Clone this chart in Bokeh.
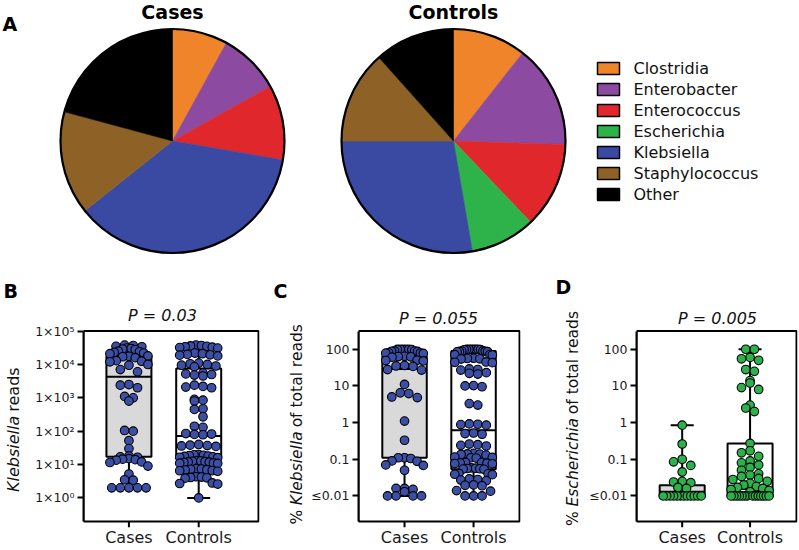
import numpy as np
from bokeh.plotting import figure
from bokeh.layouts import column, row
from bokeh.models import Range1d, FixedTicker, CustomJSTickFormatter
from bokeh.core.properties import value
from bokeh.embed import file_html
from bokeh.resources import INLINE

FONT = "DejaVu Sans"

# ---------------- data ----------------
genera = ["Clostridia", "Enterobacter", "Enterococcus", "Escherichia",
          "Klebsiella", "Staphylococcus", "Other"]
genus_colors = ["#f0842a", "#8c4aa0", "#e0282c", "#2db34a", "#3a4aa2", "#8e6227", "#000000"]
cases_pct = [8.0, 8.9, 10.8, 0.0, 36.6, 14.9, 20.8]
controls_pct = [10.6, 14.9, 12.4, 9.4, 27.7, 13.4, 11.6]
pie_titles = ["Cases", "Controls"]

groups = ["Cases", "Controls"]

kleb_reads_cases = [38000, 37000, 35000, 34000, 31000, 30000, 29000, 28000, 25000, 24000,
                    23000, 22000, 21000, 18000, 17500, 17000, 16000, 13000, 12500, 12000,
                    10000, 9500, 7000, 6000, 2500, 2400, 2000, 1100, 1000, 800,
                    105, 100, 52, 30, 18, 17, 16.5, 15, 14.5, 14, 13.5, 12, 11.5, 9,
                    5.2, 3.5, 3.4, 2, 2, 2, 2, 2]
kleb_reads_controls = [38000, 37000, 36000, 35000, 34000, 33000, 32000, 31000,
                       22000, 21000, 20000, 19500, 19000, 18000,
                       11000, 10500, 10000, 9500, 9000, 8500,
                       5500, 5200, 5000, 4800, 4500, 2400, 2200, 2100, 2000,
                       900, 850, 800, 470, 450, 270, 140, 130, 85, 82, 80, 78,
                       40, 38, 37, 36, 35, 20, 19.5, 19, 18.5, 18, 17.5, 17, 16.5, 16,
                       13, 12.8, 12.5, 12.2, 12, 11.8, 11.5, 11.2, 11, 10.8,
                       7.5, 7.3, 7.2, 7, 6.8, 6.6, 6.5, 6.3, 4.3, 4.2, 4.1, 4, 3.9,
                       2.8, 2.7, 2.6, 1]
kleb_pct_cases = [100, 100, 100, 100, 99, 98, 90, 89, 88, 87, 80, 79, 78, 77, 64, 63, 62, 61,
                  50, 49, 48, 36, 35, 34, 28, 27, 11, 6.5, 6.2, 5, 4.8, 1.1, 0.33,
                  0.11, 0.11, 0.105, 0.09, 0.088, 0.07, 0.068, 0.05, 0.016, 0.016, 0.015,
                  0.013, 0.01, 0.01, 0.01, 0.01]
kleb_pct_controls = [100, 100, 100, 100, 100, 99, 98, 97, 90, 89, 88, 87, 86, 85,
                     72, 71, 70, 57, 56, 55, 54, 45, 44, 43, 29, 28, 27, 23, 22, 21,
                     10.2, 10, 9.5, 3.3, 3.0, 0.92, 0.9, 0.88, 0.85, 0.52, 0.5, 0.48,
                     0.26, 0.25, 0.24, 0.23, 0.145, 0.14, 0.138, 0.135, 0.13,
                     0.115, 0.112, 0.11, 0.108, 0.082, 0.08, 0.079, 0.078, 0.076, 0.075,
                     0.058, 0.057, 0.056, 0.055, 0.054, 0.053, 0.041, 0.04, 0.039, 0.038,
                     0.029, 0.028, 0.027, 0.026, 0.02, 0.019, 0.0195, 0.014, 0.0135,
                     0.01, 0.01, 0.01]
esch_pct_cases = [0.85, 0.26, 0.1, 0.085, 0.068, 0.045, 0.025, 0.024, 0.023, 0.017, 0.016,
                  0.01, 0.01, 0.01, 0.01, 0.01, 0.01, 0.01, 0.01, 0.01, 0.01, 0.01, 0.01]
esch_pct_controls = [100, 100, 60, 55, 50, 28, 25, 14, 12, 9, 8, 3, 2.5, 2, 0.27, 0.17,
                     0.15, 0.12, 0.09, 0.08, 0.07, 0.06, 0.05, 0.04, 0.037, 0.034, 0.03,
                     0.028, 0.025, 0.022, 0.02, 0.018, 0.017, 0.016, 0.015, 0.014, 0.013,
                     0.01, 0.01, 0.01, 0.01, 0.01, 0.01, 0.01, 0.01, 0.01, 0.01, 0.01,
                     0.01, 0.01, 0.01]

# box stats: [whisker min, Q1, median, Q3, whisker max]
kleb_reads_cases_box = [2, 17, 4300, 18000, 38000]
kleb_reads_controls_box = [1, 17, 72, 7500, 38000]
kleb_pct_cases_box = [0.01, 0.11, 29, 65, 100]
kleb_pct_controls_box = [0.01, 0.053, 0.62, 90, 100]
esch_pct_cases_box = [0.01, 0.01, 0.013, 0.0195, 0.85]
esch_pct_controls_box = [0.01, 0.01, 0.0155, 0.27, 100]

reads_ticks = [1, 10, 100, 1000, 10000, 100000]
reads_tick_labels = ["1×10⁰", "1×10¹", "1×10²", "1×10³", "1×10⁴", "1×10⁵"]
pct_ticks = [0.01, 0.1, 1, 10, 100]
pct_tick_labels = ["≤0.01", "0.1", "1", "10", "100"]

p_values = ["P = 0.03", "P = 0.055", "P = 0.005"]
panel_letters = ["A", "B", "C", "D"]
y_labels = [
    [("Klebsiella", True), (" reads", False)],
    [("% ", False), ("Klebsiella", True), (" of total reads", False)],
    [("% ", False), ("Escherichia", True), (" of total reads", False)],
]

# ---------------- helpers ----------------
DW = {' ': 0.318, '%': 0.950, 'K': 0.656, 'l': 0.278, 'e': 0.615, 'b': 0.635, 's': 0.521,
      'i': 0.278, 'a': 0.613, 'r': 0.411, 'd': 0.635, 'o': 0.612, 'f': 0.352, 't': 0.392,
      'E': 0.632, 'c': 0.550, 'h': 0.634}


def text_w(s, size):
    return sum(DW.get(ch, 0.6) for ch in s) * size


def swarm_offsets(vals, ymin, pdec, d=8.6, lim=19.0):
    """Prism-like binned swarm: points sharing a bin of one dot height sit side by side."""
    ys = (np.log10(np.asarray(vals, dtype=float)) - ymin) * pdec
    base = ys.min()
    bins = np.round((ys - base) / d).astype(int)
    xs = np.zeros(len(ys))
    for b in np.unique(bins):
        idx = np.where(bins == b)[0]
        idx = idx[np.argsort(-ys[idx], kind="stable")]
        n = len(idx)
        step = d if (n - 1) * d <= 2 * lim else 2 * lim / (n - 1)
        pos = (np.arange(n) - (n - 1) / 2) * step
        pos = pos[np.argsort(np.abs(pos) + 1e-3 * pos, kind="stable")]
        xs[idx] = pos
    return xs


W_TOTAL = 798
H_TOTAL = 549
TOP_H = 300                  # page rows 0..300: pies, legend, panel letters
ROW_H = H_TOTAL - TOP_H
BTOP = 0
BBOT = 19
FR_TOP = TOP_H + BTOP        # page y of the bottom frames' top
FR_BOT = H_TOTAL - BBOT      # page y of the bottom frames' bottom
BOX_TOP = 331                # visible box (page y)
BOX_BOT = 524

# ---------------- top canvas ----------------
top = figure(width=W_TOTAL, height=TOP_H, x_range=Range1d(0, W_TOTAL), y_range=Range1d(0, TOP_H),
             output_backend="svg", toolbar_location=None, x_axis_location=None,
             y_axis_location=None, min_border=0, title=None)
top.outline_line_color = None
for g in top.grid:
    g.visible = False


def ty(page_y):
    return TOP_H - page_y


pie_cx = [172, 453]
pie_cy = ty(140.5)
pie_r = 112
for k, pct in enumerate([cases_pct, controls_pct]):
    frac = np.array(pct) / np.sum(pct)
    cum = np.concatenate([[0], np.cumsum(frac)])
    keep = frac > 0
    starts = (np.pi / 2 - 2 * np.pi * cum[1:])[keep]
    ends = (np.pi / 2 - 2 * np.pi * cum[:-1])[keep]
    cols = [c for c, kk in zip(genus_colors, keep) if kk]
    top.wedge(x=pie_cx[k], y=pie_cy, radius=pie_r, start_angle=starts, end_angle=ends,
              direction="anticlock", fill_color=cols, line_color=cols, line_width=0.6)
    top.circle(x=pie_cx[k], y=pie_cy, radius=pie_r, fill_color=None, line_color="black",
               line_width=2.2)
    top.text(x=[pie_cx[k]], y=[ty(11)], text=[pie_titles[k]], text_font=value(FONT),
             text_font_size="19px", text_font_style="bold", text_align="center",
             text_baseline="middle", text_color="black")

leg_y = [ty(68 + 21 * i) for i in range(len(genera))]
top.rect(x=[608] * len(genera), y=leg_y, width=22, height=12, fill_color=genus_colors,
         line_color="black", line_width=1.5)
top.text(x=[633] * len(genera), y=leg_y, text=genera, text_font=value(FONT),
         text_font_size="16px", text_baseline="middle", text_color="#111111")

top.text(x=[2, 3, 273, 555], y=[ty(23), ty(290), ty(290), ty(286)], text=panel_letters,
         text_font=value(FONT), text_font_size="19px", text_font_style="bold",
         text_align="left", text_baseline="middle", text_color="black")


# ---------------- y-axis label strips ----------------
def ylabel_strip(width, parts, center_page_y, size):
    fh = FR_BOT - FR_TOP
    s = figure(width=width, height=ROW_H, x_range=Range1d(0, width), y_range=Range1d(0, fh),
               output_backend="svg", toolbar_location=None, x_axis_location=None,
               y_axis_location=None, min_border_left=0, min_border_right=0,
               min_border_top=BTOP, min_border_bottom=BBOT, title=None)
    s.outline_line_color = None
    for g in s.grid:
        g.visible = False
    total = sum(text_w(t, size) for t, _ in parts)
    cur = (FR_BOT - center_page_y) - total / 2      # bottom end of the label (data y, upward)
    for t, ital in parts:
        lead = len(t) - len(t.lstrip(" "))
        cur += text_w(" " * lead, size)
        core = t.strip(" ")
        s.text(x=[width / 2], y=[cur], text=[core], angle=np.pi / 2, text_font=value(FONT),
               text_font_size=f"{size}px", text_font_style="italic" if ital else "normal",
               text_align="left", text_baseline="middle", text_color="#111111")
        cur += text_w(core, size)
        trail = len(t) - len(t.rstrip(" "))
        cur += text_w(" " * trail, size)
    return s


# ---------------- box + swarm panels ----------------
def panel(fig_left, box_left, box_right, fig_right, xr, anchor, ticks, tick_labels,
          data_c, data_k, box_c, box_k, color, ptitle, ptitle_x, ptitle_y):
    v0, y0, pdec = anchor          # value v0 sits at page y0; pdec pixels per decade
    vis_w = box_right - box_left
    ppu = vis_w / (xr[1] - xr[0])
    frame_w = vis_w + 1
    bl = box_left - fig_left
    br = fig_right - box_left - frame_w
    ymax = np.log10(v0) + (y0 - FR_TOP) / pdec
    ymin = np.log10(v0) - (FR_BOT - y0) / pdec

    def py(page_y):
        return 10 ** (np.log10(v0) + (y0 - page_y) / pdec)

    def px(page_x):
        return xr[0] + (page_x - box_left) / ppu

    p = figure(width=fig_right - fig_left, height=ROW_H,
               x_range=Range1d(xr[0], xr[1] + 1 / ppu),
               y_range=Range1d(10 ** ymin, 10 ** ymax), y_axis_type="log",
               output_backend="svg", toolbar_location=None, title=None,
               min_border_left=bl, min_border_right=br, min_border_top=BTOP,
               min_border_bottom=BBOT)
    p.grid.visible = False
    p.outline_line_color = None
    p.background_fill_color = "white"
    p.border_fill_color = "white"

    yax = p.yaxis[0]
    yax.ticker = FixedTicker(ticks=ticks, minor_ticks=[])
    yax.formatter = CustomJSTickFormatter(args=dict(vals=ticks, labs=tick_labels), code="""
        let best = -1, bd = 1e9;
        for (let i = 0; i < vals.length; i++) {
            const d = Math.abs(Math.log(vals[i]) - Math.log(tick));
            if (d < bd) { bd = d; best = i; }
        }
        return bd < 1e-6 ? labs[best] : "";
    """)
    yax.bounds = (py(BOX_BOT), py(BOX_TOP))
    yax.axis_line_width = 2
    yax.axis_line_color = "black"
    yax.major_tick_line_width = 2
    yax.major_tick_line_color = "black"
    yax.major_tick_out = 6
    yax.major_tick_in = 0
    yax.minor_tick_line_color = None
    yax.major_label_text_font = FONT
    yax.major_label_text_color = "#1a1a1a"
    yax.major_label_text_font_size = "12.5px"
    yax.major_label_standoff = 3

    xax = p.xaxis[0]
    xax.ticker = FixedTicker(ticks=[1, 2], minor_ticks=[])
    xax.formatter = CustomJSTickFormatter(args=dict(labs=groups), code="""
        const i = Math.round(tick) - 1;
        return (i >= 0 && i < labs.length) ? labs[i] : "";
    """)
    xax.axis_line_color = None
    xax.major_tick_line_color = None
    xax.major_tick_out = 0
    xax.major_tick_in = 0
    xax.minor_tick_line_color = None
    xax.major_label_text_font = FONT
    xax.major_label_text_color = "#1a1a1a"
    xax.major_label_text_font_size = "16px"
    xax.major_label_standoff = 0

    bw = 45 / ppu
    cw = 23 / ppu
    boxes = [box_c, box_k]
    cats = [1, 2]
    p.quad(left=[c - bw / 2 for c in cats], right=[c + bw / 2 for c in cats],
           bottom=[b[1] for b in boxes], top=[b[3] for b in boxes],
           fill_color=["#d9d9d9", "#ffffff"], line_color="black", line_width=2)
    p.segment(x0=[c - bw / 2 for c in cats], x1=[c + bw / 2 for c in cats],
              y0=[b[2] for b in boxes], y1=[b[2] for b in boxes], line_color="black",
              line_width=2)
    p.segment(x0=cats + cats, x1=cats + cats,
              y0=[b[3] for b in boxes] + [b[1] for b in boxes],
              y1=[b[4] for b in boxes] + [b[0] for b in boxes], line_color="black", line_width=2)
    p.segment(x0=[c - cw / 2 for c in cats] * 2, x1=[c + cw / 2 for c in cats] * 2,
              y0=[b[4] for b in boxes] + [b[0] for b in boxes],
              y1=[b[4] for b in boxes] + [b[0] for b in boxes], line_color="black", line_width=2)

    for c, vals in zip(cats, [data_c, data_k]):
        offs = swarm_offsets(vals, ymin, pdec)
        p.scatter(x=c + offs / ppu, y=vals, size=8.6, fill_color=color, line_color="black",
                  line_width=1.1)

    # plot box and x tick marks
    p.quad(left=[xr[0]], right=[xr[1]], bottom=[py(BOX_BOT)], top=[py(BOX_TOP)],
           fill_color=None, line_color="black", line_width=2)
    p.segment(x0=cats, x1=cats, y0=[py(BOX_BOT)] * 2, y1=[py(BOX_BOT + 6)] * 2,
              line_color="black", line_width=2)
    # P value
    p.text(x=[px(ptitle_x)], y=[py(ptitle_y)], text=[ptitle], text_font=value(FONT),
           text_font_size="16px", text_font_style="italic", text_align="center",
           text_baseline="middle", text_color="#111111")
    return p


# page x layout: [label B 0-26][B 26-284][label C 284-308][C 308-560][label D 560-584][D 584-798]
lB = ylabel_strip(26, y_labels[0], 431, 16)
pB = panel(26, 83, 258, 284, (0.349, 2.857), (1, 500, 33.8), reads_ticks, reads_tick_labels,
           kleb_reads_cases, kleb_reads_controls, kleb_reads_cases_box, kleb_reads_controls_box,
           "#3c4fa6", p_values[0], 162, 315)
lC = ylabel_strip(24, y_labels[1], 426, 15.5)
pC = panel(308, 356, 519, 560, (0.333, 2.666), (0.01, 498, 37.15), pct_ticks, pct_tick_labels,
           kleb_pct_cases, kleb_pct_controls, kleb_pct_cases_box, kleb_pct_controls_box,
           "#3c4fa6", p_values[1], 437, 318)
lD = ylabel_strip(24, y_labels[2], 420, 15.5)
pD = panel(584, 636, 796, 798, (0.327, 2.684), (0.01, 498, 37.15), pct_ticks, pct_tick_labels,
           esch_pct_cases, esch_pct_controls, esch_pct_cases_box, esch_pct_controls_box,
           "#2db14b", p_values[2], 717, 318)

layout = column(top, row(lB, pB, lC, pC, lD, pD))
open("out.html", "w").write(file_html(layout, INLINE))
